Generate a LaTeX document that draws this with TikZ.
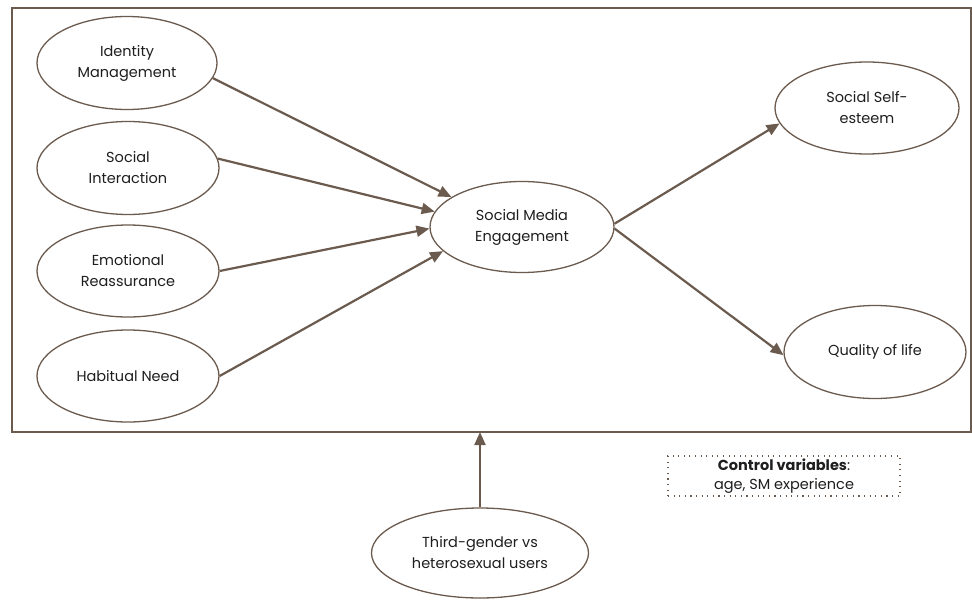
\documentclass[tikz,border=0pt]{standalone}
\usepackage{fontspec}
\setmainfont{Poppins}
\usetikzlibrary{shapes.geometric,arrows.meta}
\definecolor{lc}{HTML}{6B5A4E}
\definecolor{tc}{HTML}{1E1E1E}
\begin{document}
\begin{tikzpicture}[x=1pt,y=-1pt,
  oval/.style={ellipse,draw=lc,line width=1.3pt,inner sep=0pt,align=center,
    text=tc,font=\fontsize{14.5}{21}\selectfont},
  conn/.style={draw=lc,line width=2.2pt,-{Triangle[length=13pt,width=11pt]}}]
\useasboundingbox (0,0) rectangle (972,602);
\draw[lc,line width=1.2pt] (12,8) rectangle (971,432);
\coordinate (boxb) at (480,432);
\node[oval,minimum width=180pt,minimum height=93pt] (im) at (127,63) {Identity\\Management};
\node[oval,minimum width=182pt,minimum height=93pt] (si) at (128,168) {Social\\Interaction};
\node[oval,minimum width=182pt,minimum height=92pt] (er) at (128,271) {Emotional\\Reassurance};
\node[oval,minimum width=182pt,minimum height=92pt] (hn) at (128,376) {Habitual Need};
\node[oval,minimum width=184pt,minimum height=91pt] (sme) at (522,227) {Social Media\\Engagement};
\node[oval,minimum width=184pt,minimum height=92pt] (sse) at (867,108) {Social Self-\\esteem};
\node[oval,minimum width=182pt,minimum height=93pt] (qol) at (875,352) {Quality of life};
\node[oval,minimum width=217pt,minimum height=90pt] (tg) at (480,553) {Third-gender vs\\heterosexual users};
\node[draw=lc,line width=1.1pt,dash pattern=on 1.1pt off 4.5pt,minimum width=232pt,minimum height=40pt,inner sep=0pt,
  align=center,text=tc,font=\fontsize{14.5}{19}\selectfont] (cv) at (784,476)
  {\textbf{Control variables}:\\age, SM experience};
\draw[conn] (im.-10) -- (sme.157);
\draw[conn] (si.6) -- (sme.170);
\draw[conn] (er.east) -- (sme.181);
\draw[conn] (hn.east) -- (sme.197);
\draw[conn] (sme.2) -- (sse.190);
\draw[conn] (sme.-1) -- (qol.182);
\draw[conn] (tg.north) -- (boxb);
\end{tikzpicture}
\end{document}
